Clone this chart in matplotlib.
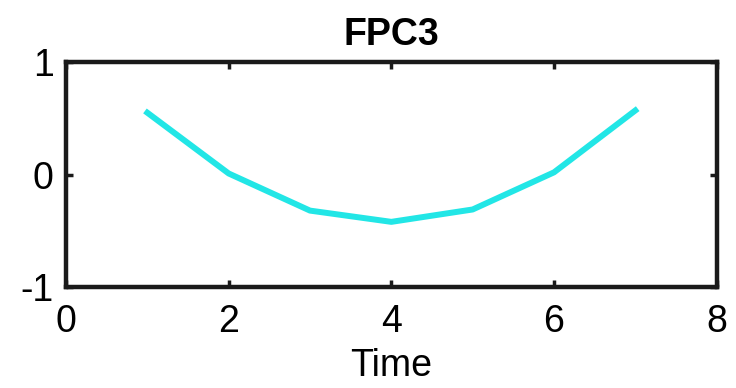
import matplotlib
matplotlib.use("Agg")
import matplotlib.pyplot as plt

time = [1, 2, 3, 4, 5, 6, 7]
fpc3 = [0.55, 0.01, -0.32, -0.42, -0.31, 0.02, 0.57]
xticks = [0, 2, 4, 6, 8]
yticks = [-1, 0, 1]

plt.rcParams['font.family'] = ['Liberation Sans', 'DejaVu Sans']

fig = plt.figure(figsize=(7.36, 3.88), dpi=100)
ax = fig.add_axes([0.0897, 0.260, 0.884, 0.580])
ax.plot(time, fpc3, color='#22e6e6', linewidth=4.3, solid_joinstyle='round')
ax.set_xlim(0, 8)
ax.set_ylim(-1, 1)
ax.set_xticks(xticks)
ax.set_yticks(yticks)
ax.set_xticklabels([str(t) for t in xticks])
ax.set_yticklabels([str(t) for t in yticks])
ax.tick_params(direction='in', length=5, width=2.5, labelsize=27,
               top=True, right=True, color='#1a1a1a')
ax.tick_params(axis='x', pad=12)
ax.tick_params(axis='y', pad=9)
for s in ax.spines.values():
    s.set_linewidth(3.2)
    s.set_color('#1a1a1a')
ax.set_xlabel('Time', fontsize=27, labelpad=6)
ax.set_title('FPC3', fontsize=27, fontweight='bold', pad=12)
fig.savefig('out.png', dpi=100)
